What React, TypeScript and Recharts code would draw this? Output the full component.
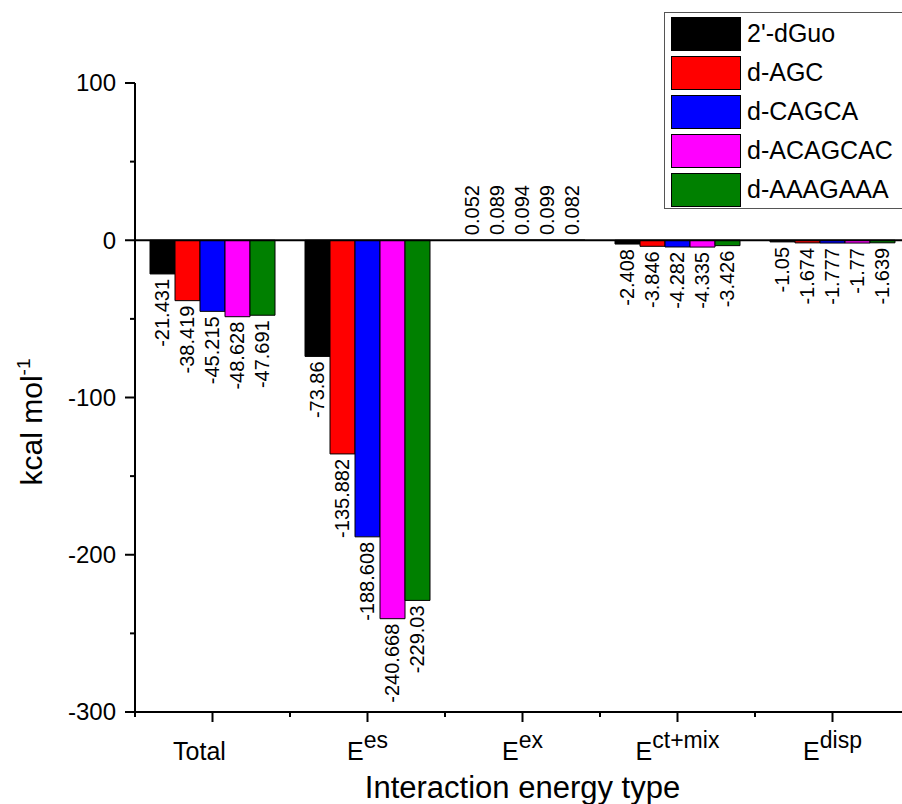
import React from 'react';
import { BarChart, Bar, XAxis, YAxis, Legend, ReferenceLine, LabelList, Label } from 'recharts';

const categories = ['Total', 'E^es', 'E^ex', 'E^ct+mix', 'E^disp'];
const seriesNames = ["2'-dGuo", 'd-AGC', 'd-CAGCA', 'd-ACAGCAC', 'd-AAAGAAA'];
const dGuo = [-21.431, -73.86, 0.052, -2.408, -1.05];
const dAGC = [-38.419, -135.882, 0.089, -3.846, -1.674];
const dCAGCA = [-45.215, -188.608, 0.094, -4.282, -1.777];
const dACAGCAC = [-48.628, -240.668, 0.099, -4.335, -1.77];
const dAAAGAAA = [-47.691, -229.03, 0.082, -3.426, -1.639];
const yTicks = [-300, -250, -200, -150, -100, -50, 0, 50, 100];

const seriesValues = [dGuo, dAGC, dCAGCA, dACAGCAC, dAAAGAAA];
const colors = ['#000000', '#ff0000', '#0000ff', '#ff00ff', '#008000'];
const FONT = '"Liberation Sans", Arial, Helvetica, sans-serif';

const chartData = categories.map((c, i) => {
  const row: Record<string, string | number> = { category: c };
  seriesValues.forEach((vals, j) => {
    row['s' + j] = vals[i];
  });
  return row;
});

const XTick = (props: any) => {
  const { x, y, payload, index } = props;
  const half = payload.offset || 77.5;
  const [main, sup] = String(payload.value).split('^');
  const shift = main === 'Total' ? -13 : 0;
  return (
    <g>
      <line x1={x} y1={y} x2={x} y2={y + 10} stroke="#000" strokeWidth={2} />
      <line x1={x - half} y1={y} x2={x - half} y2={y + 5} stroke="#000" strokeWidth={2} />
      {index === categories.length - 1 && (
        <line x1={x + half} y1={y} x2={x + half} y2={y + 5} stroke="#000" strokeWidth={2} />
      )}
      <text x={x + shift} y={y + 48} textAnchor="middle" fontSize={25} fontFamily={FONT} fill="#000">
        {main}
        {sup && (
          <tspan dy={-12} fontSize={23}>
            {sup}
          </tspan>
        )}
      </text>
    </g>
  );
};

const YTick = (props: any) => {
  const { x, y, payload } = props;
  const major = payload.value % 100 === 0;
  return (
    <g>
      <line x1={x - (major ? 10 : 5)} y1={y} x2={x} y2={y} stroke="#000" strokeWidth={2} />
      {major && (
        <text x={x - 19} y={y} dy="0.35em" textAnchor="end" fontSize={24} fontFamily={FONT} fill="#000">
          {payload.value}
        </text>
      )}
    </g>
  );
};

const renderValueLabel = (props: any) => {
  const { x, y, width, height, value } = props;
  const cx = x + width / 2;
  const top = Math.min(y, y + height);
  const bottom = Math.max(y, y + height);
  const neg = value < 0;
  const ay = neg ? bottom + 5 : top - 5;
  return (
    <text
      x={cx}
      y={ay}
      dy="0.35em"
      textAnchor={neg ? 'end' : 'start'}
      transform={`rotate(-90, ${cx}, ${ay})`}
      fontSize={20}
      fontFamily={FONT}
      fill="#000"
    >
      {value}
    </text>
  );
};

const YTitle = (props: any) => {
  const { viewBox } = props;
  const tx = viewBox.x + 42;
  const ty = 422;
  return (
    <text x={tx} y={ty} textAnchor="middle" transform={`rotate(-90, ${tx}, ${ty})`} fontSize={30} fontFamily={FONT} fill="#000">
      kcal mol
      <tspan dy={-12} fontSize={19}>
        -1
      </tspan>
    </text>
  );
};

const XTitle = (props: any) => {
  const { viewBox } = props;
  return (
    <text x={viewBox.x + viewBox.width / 2} y={viewBox.y + 86} textAnchor="middle" fontSize={31} fontFamily={FONT} fill="#000">
      Interaction energy type
    </text>
  );
};

const LegendBox = (props: any) => {
  const items = [...(props.payload || [])].sort(
    (a: any, b: any) => seriesNames.indexOf(a.value) - seriesNames.indexOf(b.value)
  );
  return (
    <div style={{ border: '1px solid #555', background: '#fff', padding: '1px 0 0 6px', boxSizing: 'border-box', height: 197 }}>
      {items.map((p: any) => (
        <div key={p.value} style={{ display: 'flex', alignItems: 'center', height: 39 }}>
          <div style={{ width: 70, height: 34, background: p.color, border: '1.5px solid #000', boxSizing: 'border-box' }} />
          <span style={{ marginLeft: 6, fontSize: 25, fontFamily: FONT, color: '#000' }}>{p.value}</span>
        </div>
      ))}
    </div>
  );
};

export default function App() {
  return (
    <div style={{ position: 'absolute', left: 0, top: 0, width: 902, height: 804, overflow: 'hidden', background: '#fff' }}>
      <BarChart
        width={920}
        height={804}
        data={chartData}
        margin={{ top: 83, right: 10, bottom: 0, left: 0 }}
        barGap={0}
        barSize={25}
      >
        <XAxis
          dataKey="category"
          height={92}
          interval={0}
          tickSize={0}
          tickMargin={0}
          tickLine={false}
          axisLine={{ stroke: '#000', strokeWidth: 2 }}
          tick={<XTick />}
        >
          <Label content={<XTitle />} />
        </XAxis>
        <YAxis
          width={135}
          domain={[-300, 100]}
          ticks={yTicks}
          interval={0}
          tickSize={0}
          tickMargin={0}
          tickLine={false}
          axisLine={{ stroke: '#000', strokeWidth: 2 }}
          tick={<YTick />}
        >
          <Label content={<YTitle />} />
        </YAxis>
        <Legend
          layout="vertical"
          align="center"
          verticalAlign="middle"
          wrapperStyle={{ position: 'absolute', left: 664, top: 12, width: 260 }}
          content={<LegendBox />}
        />
        {seriesNames.map((name, j) => (
          <Bar
            key={name}
            dataKey={'s' + j}
            name={name}
            fill={colors[j]}
            stroke="#000"
            strokeWidth={1}
            isAnimationActive={false}
          >
            <LabelList dataKey={'s' + j} content={renderValueLabel} />
          </Bar>
        ))}
        <ReferenceLine y={0} stroke="#000" strokeWidth={2} />
      </BarChart>
    </div>
  );
}
